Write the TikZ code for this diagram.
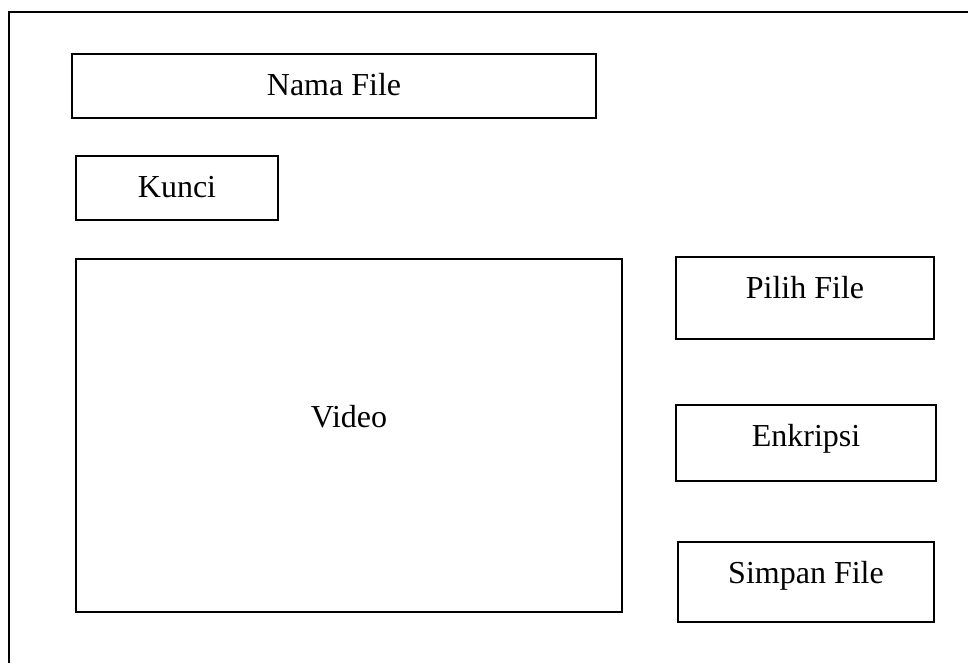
\documentclass[tikz,border=0pt]{standalone}
\usepackage{fontspec}
\setmainfont{Liberation Serif}
\begin{document}
\begin{tikzpicture}[x=0.375pt,y=-0.375pt,
  box/.style={draw, line width=0.75pt, inner sep=0pt},
  lbl/.style={anchor=base, inner sep=0pt, font=\fontsize{12}{14}\selectfont}]
\useasboundingbox (0,0) rectangle (968,663);
% window frame (top and left edges)
\draw[line width=1.1pt] (9,663) -- (9,12) -- (968,12);
% fields and panels
\node[box, minimum width=524*0.375pt, minimum height=64*0.375pt] (nama) at (334,86) {};
\node[box, minimum width=202*0.375pt, minimum height=64*0.375pt] (kunci) at (177,188) {};
\node[box, minimum width=546*0.375pt, minimum height=353*0.375pt] (video) at (349,435.5) {};
\node[box, minimum width=258*0.375pt, minimum height=82*0.375pt] (pilih) at (805,298) {};
\node[box, minimum width=260*0.375pt, minimum height=76*0.375pt] (enkripsi) at (806,443) {};
\node[box, minimum width=256*0.375pt, minimum height=80*0.375pt] (simpan) at (806,582) {};
% captions
\node[lbl] (tnama) at (334,95) {Nama File};
\node[lbl] (tkunci) at (177,197) {Kunci};
\node[lbl] (tvideo) at (349,427) {Video};
\node[lbl] (tpilih) at (805,298) {Pilih File};
\node[lbl] (tenkripsi) at (806,446) {Enkripsi};
\node[lbl] (tsimpan) at (806,583) {Simpan File};
\end{tikzpicture}
\end{document}
